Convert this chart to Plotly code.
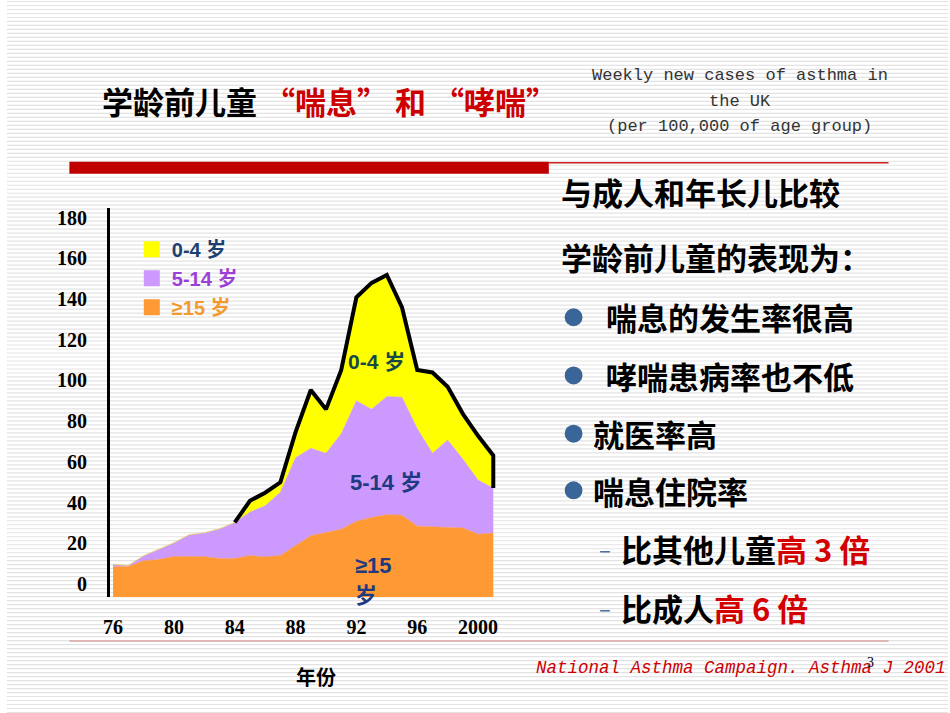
import plotly.graph_objects as go

W, H = 950, 713

# ---------------- data ----------------
years = list(range(1976, 2002))
age_15plus = [14.9, 15.0, 17.9, 18.5, 20.0, 20.0, 19.9, 19.0, 19.0, 20.4, 19.7, 20.5, 25.3,
              30.2, 31.7, 33.3, 37.3, 39.1, 40.5, 40.2, 34.8, 34.6, 34.3, 34.0, 30.9, 31.5]
age_5_14 = [1.3, 0.5, 2.4, 5.0, 6.7, 10.7, 11.7, 14.6, 17.7, 21.4, 25.2, 31.0, 43.2,
            42.9, 39.0, 46.9, 59.1, 53.2, 58.0, 58.0, 48.0, 36.1, 42.8, 33.8, 26.6, 22.1]
age_0_4 = [0, 0, 0, 0, 0, 0, 0, 0, 0, 5.5, 6.4, 4.9, 12.5,
           28.6, 21.5, 31.2, 50.8, 62.0, 59.7, 44.0, 28.7, 39.6, 26.2, 22.2, 21.7, 16.0]
tick_years = [1976, 1980, 1984, 1988, 1992, 1996, 2000]
tick_text = ["76", "80", "84", "88", "92", "96", "2000"]
y_ticks = list(range(0, 181, 20))

series_names = ["≥15 岁", "5-14 岁", "0-4 岁"]
fill_colors = ["#ff9933", "#cc99ff", "#ffff00"]
legend_text_colors = ["#f39a2e", "#9b3fd6", "#1d4070"]


def px(x):
    return x / W


def py(y):
    return 1 - y / H


fig = go.Figure()

# stacked areas
for vals, name, col in zip([age_15plus, age_5_14, age_0_4], series_names, fill_colors):
    fig.add_trace(go.Scatter(
        x=years, y=vals, stackgroup="a", mode="lines",
        line=dict(width=0.5, color=col), fillcolor=col,
        name=name, showlegend=False, hoverinfo="skip"))

# black outline of the total (top of the 0-4 layer)
totals = [a + b + c for a, b, c in zip(age_15plus, age_5_14, age_0_4)]
mid = [a + b for a, b in zip(age_15plus, age_5_14)]
start = 8
fig.add_trace(go.Scatter(
    x=years[start:] + [years[-1]], y=totals[start:] + [mid[-1]],
    mode="lines", line=dict(color="black", width=4),
    showlegend=False, hoverinfo="skip"))

# legend entries (0-4 first)
for i in [2, 1, 0]:
    fig.add_trace(go.Scatter(
        x=[None], y=[None], mode="markers",
        marker=dict(symbol="square", size=18, color=fill_colors[i]),
        name=f"<b><span style='color:{legend_text_colors[i]}'>{series_names[i]}</span></b>"))

# ---------------- layout ----------------
shapes = []
for yy in range(0, H, 4):
    shapes.append(dict(type="line", xref="paper", yref="paper",
                       x0=0, x1=1, y0=py(yy + 0.5), y1=py(yy + 0.5),
                       line=dict(color="#e3e3e3", width=1.2), layer="below"))
# red header bar + rules
shapes.append(dict(type="rect", xref="paper", yref="paper",
                   x0=px(63), x1=px(547), y0=py(173), y1=py(161),
                   fillcolor="#c00000", line=dict(width=0), layer="below"))
shapes.append(dict(type="line", xref="paper", yref="paper",
                   x0=px(547), x1=px(890), y0=py(162), y1=py(162),
                   line=dict(color="#cc2020", width=1.5), layer="below"))
shapes.append(dict(type="line", xref="paper", yref="paper",
                   x0=px(63), x1=px(890), y0=py(641), y1=py(641),
                   line=dict(color="#d8a4a4", width=1.5), layer="below"))
# bullets
for cy in [316.7, 375, 433.3, 490]:
    shapes.append(dict(type="circle", xref="paper", yref="paper",
                       x0=px(563), x1=px(581), y0=py(cy + 9), y1=py(cy - 9),
                       fillcolor="#3a6599", line=dict(width=0)))

cjk = "Noto Sans CJK SC"
mixed = "Liberation Sans, Noto Sans CJK SC"
ann = []


def add(text, x, y, size, color="black", xanchor="left", family=cjk, **kw):
    ann.append(dict(text=text, x=px(x), y=py(y), xref="paper", yref="paper",
                    xanchor=xanchor, yanchor="middle", showarrow=False,
                    font=dict(family=family, size=size, color=color), **kw))


red = "#cc0000"
add("<b>学龄前儿童 <span style='color:#cc0000'>“喘息” 和 “哮喘”</span></b>", 94, 100, 31)
mono = "Liberation Mono"
add("Weekly new cases of asthma in", 740, 75, 17, "#333333", "center", mono)
add("the UK", 740, 101, 17, "#333333", "center", mono)
add("(per 100,000 of age group)", 740, 126, 17, "#333333", "center", mono)

fs = 31
add("<b>与成人和年长儿比较</b>", 557, 191, fs)
add("<b>学龄前儿童的表现为：</b>", 557, 256, fs)
add("<b>喘息的发生率很高</b>", 603, 316, fs)
add("<b>哮喘患病率也不低</b>", 603, 375, fs)
add("<b>就医率高</b>", 590, 433, fs)
add("<b>喘息住院率</b>", 590, 490, fs)
add("–", 604, 548, 22, "#4a6fa5", "center")
add("–", 604, 607, 22, "#4a6fa5", "center")
add("<b>比其他儿童<span style='color:#d40000'>高 3 倍</span></b>", 618, 548, fs)
add("<b>比成人<span style='color:#d40000'>高 6 倍</span></b>", 618, 607, fs)

# in-chart labels
add("<b>0-4 岁</b>", 373, 361, 21, "#154848", "center", mixed)
add("<b>5-14 岁</b>", 383, 482, 22, "#1f3a80", "center", mixed)
add("<b>≥15</b>", 349, 565, 22, "#1f3a80", "left", mixed)
add("<b>岁</b>", 349, 595, 22, "#1f3a80", "left", mixed)

add("<b>年份</b>", 290, 676, 20)
add("<i>National Asthma Campaign. Asthma J 2001</i>", 950, 668, 17.5, red, "right", mono)
add("3", 872, 662, 14, "black", "center", "Liberation Serif")

tick_font = dict(family="Liberation Serif", size=20, color="black", weight="bold")

fig.update_layout(
    width=W, height=H,
    margin=dict(l=0, r=0, t=0, b=0),
    paper_bgcolor="white", plot_bgcolor="rgba(0,0,0,0)",
    shapes=shapes, annotations=ann,
    legend=dict(x=px(126), y=py(229), xanchor="left", yanchor="top",
                bgcolor="rgba(0,0,0,0)", font=dict(family=mixed, size=20),
                traceorder="normal", itemclick=False),
    xaxis=dict(domain=[px(104), px(494)], range=[1975.8, 2001.2],
               showgrid=False, zeroline=False, showline=False,
               tickvals=tick_years, ticktext=tick_text, ticks="",
               ticklabelstandoff=16, tickfont=tick_font),
    yaxis=dict(domain=[py(597), py(207)], range=[0, 191.2],
               showgrid=False, zeroline=False, showline=True,
               linecolor="black", linewidth=3,
               tickvals=y_ticks, ticks="", ticklabelshift=-13, ticklabelstandoff=16,
               tickfont=tick_font),
    showlegend=True,
)

# pin the figure to the top-left corner of the page (no body margin)
post = ("document.documentElement.style.margin='0';"
        "document.body.style.margin='0';document.body.style.overflow='hidden';"
        "var d=document.getElementById('{plot_id}');"
        "d.style.position='absolute';d.style.left='0px';d.style.top='0px';")

fig.write_html("out.html", post_script=post)
